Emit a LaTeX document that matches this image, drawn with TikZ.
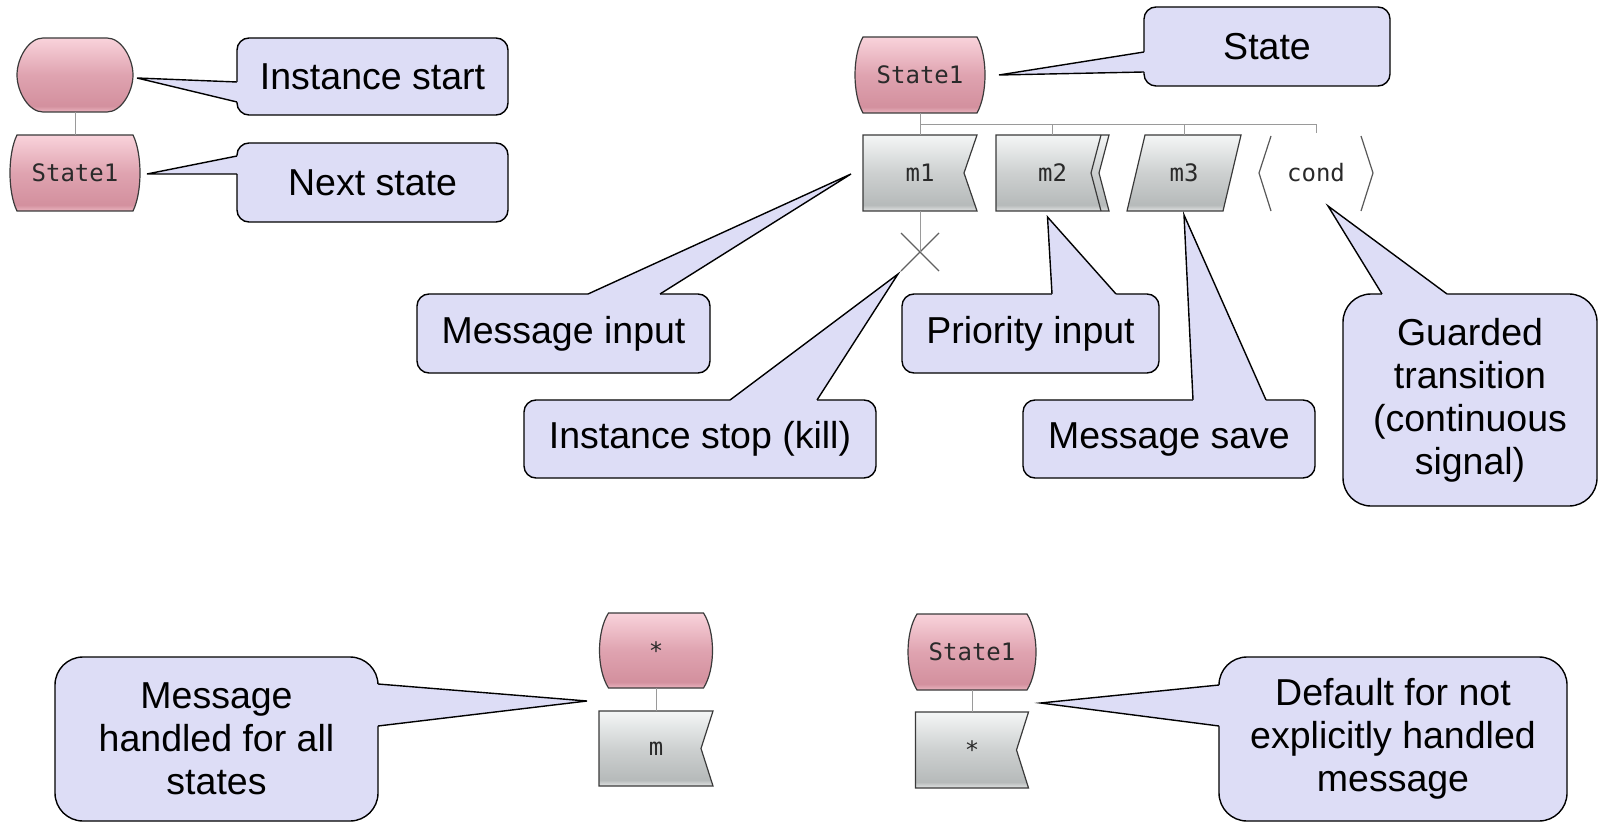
\documentclass[tikz,border=0pt]{standalone}
\usepackage{fontspec}
\setmainfont{Liberation Sans}
\newfontfamily\monofont{DejaVu Sans Mono}
\usetikzlibrary{calc,backgrounds,shapes.misc}

\definecolor{callfill}{HTML}{DDDDF6}
\definecolor{edge}{HTML}{3A3A3A}
\definecolor{conngray}{HTML}{9A9A9A}
\definecolor{txtgray}{HTML}{2A2A2A}
\definecolor{pkA}{HTML}{EBB5C0}
\definecolor{pkB}{HTML}{D3909E}
\definecolor{pkC}{HTML}{DFA3B0}
\definecolor{pkD}{HTML}{F9D3DB}
\definecolor{gyA}{HTML}{E2E4E4}
\definecolor{gyB}{HTML}{B6BABA}
\definecolor{gyC}{HTML}{CDD0D0}
\definecolor{gyD}{HTML}{F4F6F6}

% vertical fills: 25bp = bottom of the shape, 75bp = top
\pgfdeclareverticalshading{pinkfill}{100bp}{color(0bp)=(pkA); color(25bp)=(pkA); color(29bp)=(pkB); color(50bp)=(pkC); color(75bp)=(pkD); color(100bp)=(pkD)}
\pgfdeclareverticalshading{grayfill}{100bp}{color(0bp)=(gyA); color(25bp)=(gyA); color(29bp)=(gyB); color(50bp)=(gyC); color(75bp)=(gyD); color(100bp)=(gyD)}

\tikzset{
  shp/.style={inner sep=0pt, outer sep=0pt, font=\monofont\fontsize{12}{14}\selectfont, text=txtgray},
  sz/.style 2 args={minimum width={#1*0.5pt}, minimum height={#2*0.5pt}},
  callbox/.style={draw=black, line width=0.7pt, fill=callfill, rounded corners=6pt,
    inner sep=0pt, outer sep=0pt, align=center, font=\fontsize{18.75}{21.5}\selectfont},
  bigcall/.style={callbox, rounded corners=14pt},
  callline/.style={draw=black, line width=0.7pt},
  conn/.style={draw=conngray, line width=0.5pt},
  bracket/.style={draw=edge!85, line width=0.6pt},
  shapeedge/.style={draw=edge, line width=0.6pt},
}

% state symbol: flat top and bottom, sides bulging outwards
\newcommand\statebg[2]{%
  \begin{pgfonlayer}{background}
  \shadedraw[shading=pinkfill, shapeedge]
    (#1.north west) -- (#1.north east)
    .. controls ($(#1.north east)!.5!(#1.east)+(#2*1.333,0)$) and ($(#1.south east)!.5!(#1.east)+(#2*1.333,0)$) .. (#1.south east)
    -- (#1.south west)
    .. controls ($(#1.south west)!.5!(#1.west)-(#2*1.333,0)$) and ($(#1.north west)!.5!(#1.west)-(#2*1.333,0)$) .. (#1.north west)
    -- cycle;
  \end{pgfonlayer}}

% message input symbol: box with a notch on the right side
\newcommand\msgbg[2]{%
  \begin{pgfonlayer}{background}
  \shadedraw[shading=grayfill, shapeedge]
    (#1.north west) -- (#1.north east) -- ($(#1.east)-(#2,0)$) -- (#1.south east) -- (#1.south west) -- cycle;
  \end{pgfonlayer}}

% callout pointer: base point, tip, base point, inward shift used to hide the box border
\newcommand\callptr[4]{%
  \fill[callfill] ($(#1)+(#4)$) -- (#1) -- (#2) -- (#3) -- ($(#3)+(#4)$) -- cycle;
  \draw[callline] (#1) -- (#2) -- (#3);}

\begin{document}
\begin{tikzpicture}[x=0.5pt, y=-0.5pt]
\useasboundingbox (0,0) rectangle (1604,823);

% ---------- instance start / next state ----------
\node[shp, sz={116}{74}] (start) at (75,75) {};
\node[shp, sz={116}{76}] (s0) at (75,173) {State1};
\begin{pgfonlayer}{background}
  % start symbol: flat top and bottom with elliptic ends
  \shadedraw[shading=pinkfill, shapeedge]
    ($(start.north west)+(26,0)$) -- ($(start.north east)-(26,0)$)
    .. controls ($(start.north east)-(11.6,0)$) and ($(start.east)-(0,16.6)$) .. (start.east)
    .. controls ($(start.east)+(0,16.6)$) and ($(start.south east)-(11.6,0)$) .. ($(start.south east)-(26,0)$)
    -- ($(start.south west)+(26,0)$)
    .. controls ($(start.south west)+(11.6,0)$) and ($(start.west)+(0,16.6)$) .. (start.west)
    .. controls ($(start.west)-(0,16.6)$) and ($(start.north west)+(11.6,0)$) .. ($(start.north west)+(26,0)$)
    -- cycle;
\end{pgfonlayer}
\statebg{s0}{7}
\draw[conn] (start.south) -- (s0.north);

% ---------- state with its transitions ----------
\node[shp, sz={114}{76}] (s1) at (920,75) {State1};
\statebg{s1}{8}
\node[shp, sz={114}{76}] (m1) at (920,173) {m1};
\msgbg{m1}{13}
\node[shp, sz={113}{76}] (m2) at (1052.5,173) {m2};
\begin{pgfonlayer}{background}
  \shadedraw[shading=grayfill, shapeedge]
    (m2.north west) -- (m2.north east) -- ($(m2.east)-(10,0)$) -- (m2.south east) -- (m2.south west) -- cycle;
  \draw[shapeedge] ($(m2.north east)-(8,0)$) -- ($(m2.east)-(18,0)$) -- ($(m2.south east)-(8,0)$);
\end{pgfonlayer}
\node[shp, sz={114}{76}] (m3) at (1184,173) {m3};
\begin{pgfonlayer}{background}
  \shadedraw[shading=grayfill, shapeedge]
    (m3.south west) -- ($(m3.north west)+(18,0)$) -- (m3.north east) -- ($(m3.south east)-(18,0)$) -- cycle;
\end{pgfonlayer}
\node[shp] (cond) at (1316,173) {cond};
\draw[bracket] ($(cond.center)+(-45,-37)$) -- ($(cond.center)+(-57,0)$) -- ($(cond.center)+(-45,38)$);
\draw[bracket] ($(cond.center)+(45,-37)$) -- ($(cond.center)+(57,0)$) -- ($(cond.center)+(45,38)$);
\node[cross out, draw=edge!80, line width=0.6pt, minimum size=19pt, inner sep=0pt, outer sep=0pt] (kill) at (920,252) {};

\coordinate (busend) at (1316,125);
\coordinate (condtop) at (1316,133);
\draw[conn] (s1.south) |- (busend) -- (condtop);
\draw[conn] (m1.north) -- (m1.north |- busend);
\draw[conn] (m2.north) -- (m2.north |- busend);
\draw[conn] (m3.north) -- (m3.north |- busend);
\draw[conn] (m1.south) -- (kill.center);

% ---------- asterisk state and asterisk input ----------
\node[shp, sz={95}{75}] (sstar) at (656,650.5) {*};
\statebg{sstar}{9}
\node[shp, sz={114}{75}] (mm) at (656,748.5) {m};
\msgbg{mm}{12}
\draw[conn] (sstar.south) -- (mm.north);

\node[shp, sz={110}{76}] (sb) at (972,652) {State1};
\statebg{sb}{9}
\node[shp, sz={113}{76}] (defin) at (972,750) {*};
\msgbg{defin}{12}
\draw[conn] (sb.south) -- (defin.north);

% ---------- callouts ----------
\node[callbox, sz={271}{77}] (cstart) at (372.5,76.5) {Instance start};
\coordinate (cstart-a) at ($(cstart.north west)+(0,44)$);
\coordinate (cstart-b) at ($(cstart.north west)+(0,64)$);
\coordinate (cstart-t) at ($(start.east)+(4,3)$);
\callptr{cstart-a}{cstart-t}{cstart-b}{2,0}

\node[callbox, sz={271}{79}] (cnext) at (372.5,182.5) {Next state};
\coordinate (cnext-a) at ($(cnext.north west)+(0,13)$);
\coordinate (cnext-b) at ($(cnext.north west)+(0,31)$);
\coordinate (cnext-t) at ($(s0.east)+(14,1)$);
\callptr{cnext-a}{cnext-t}{cnext-b}{2,0}

\node[callbox, sz={246}{79}] (cstate) at (1267,46.5) {State};
\coordinate (cstate-a) at ($(cstate.north west)+(0,45)$);
\coordinate (cstate-b) at ($(cstate.north west)+(0,65)$);
\coordinate (cstate-t) at ($(s1.east)+(22,0)$);
\callptr{cstate-a}{cstate-t}{cstate-b}{2,0}

\node[callbox, sz={293}{79}] (cmin) at (563.5,333.5) {Message input};
\coordinate (cmin-a) at ($(cmin.north west)+(171,0)$);
\coordinate (cmin-b) at ($(cmin.north west)+(243,0)$);
\coordinate (cmin-t) at ($(m1.west)+(-12,1)$);
\callptr{cmin-a}{cmin-t}{cmin-b}{0,2}

\node[callbox, sz={352}{78}] (ckill) at (700,439) {Instance stop (kill)};
\coordinate (ckill-a) at ($(ckill.north west)+(206,0)$);
\coordinate (ckill-b) at ($(ckill.north west)+(293,0)$);
\coordinate (ckill-t) at ($(kill.center)+(-22,22)$);
\callptr{ckill-a}{ckill-t}{ckill-b}{0,2}

\node[callbox, sz={257}{79}] (cprio) at (1030.5,333.5) {Priority input};
\coordinate (cprio-a) at ($(cprio.north west)+(150,0)$);
\coordinate (cprio-b) at ($(cprio.north west)+(214,0)$);
\coordinate (cprio-t) at ($(m2.south)+(-5,6)$);
\callptr{cprio-a}{cprio-t}{cprio-b}{0,2}

\node[callbox, sz={292}{78}] (csave) at (1169,439) {Message save};
\coordinate (csave-a) at ($(csave.north west)+(170,0)$);
\coordinate (csave-b) at ($(csave.north west)+(243,0)$);
\coordinate (csave-t) at ($(m3.south)+(0,4)$);
\callptr{csave-a}{csave-t}{csave-b}{0,2}

\node[bigcall, sz={254}{212}] (cguard) at (1470,400) {Guarded\\transition\\(continuous\\signal)};
\coordinate (cguard-a) at ($(cguard.north west)+(39,0)$);
\coordinate (cguard-b) at ($(cguard.north west)+(104,0)$);
\coordinate (cguard-t) at ($(cond.center)+(12,33)$);
\callptr{cguard-a}{cguard-t}{cguard-b}{0,2}

\node[bigcall, sz={323}{164}] (call) at (216.5,739) {Message\\handled for all\\states};
\coordinate (call-a) at ($(call.north east)+(0,27)$);
\coordinate (call-b) at ($(call.north east)+(0,69)$);
\coordinate (call-t) at ($(mm.north west)+(-12,-10)$);
\callptr{call-a}{call-t}{call-b}{-2,0}

\node[bigcall, sz={348}{164}] (cdef) at (1393,739) {Default for not\\explicitly handled\\message};
\coordinate (cdef-a) at ($(cdef.north west)+(0,28)$);
\coordinate (cdef-b) at ($(cdef.north west)+(0,69)$);
\coordinate (cdef-t) at ($(defin.north east)+(12,-9)$);
\callptr{cdef-a}{cdef-t}{cdef-b}{2,0}

\end{tikzpicture}
\end{document}
